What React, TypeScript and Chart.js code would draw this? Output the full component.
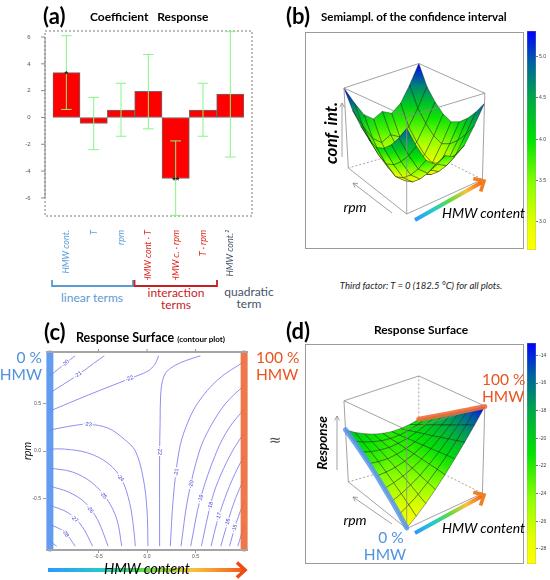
import { useEffect, useRef } from "react";
import { Chart, registerables } from "chart.js";

Chart.register(...registerables);

// ---------- data ----------
// (a) model coefficients with confidence intervals
const terms = ["HMW cont.", "T", "rpm", "HMW cont · T", "HMW c. · rpm", "T · rpm", "HMW cont.²"];
const termGroups = ["linear", "linear", "linear", "interaction", "interaction", "interaction", "quadratic"];
const coefficients = [3.35, -0.45, 0.55, 1.95, -4.55, 0.55, 1.75];
const ciLow = [0.6, -2.4, -1.4, -0.85, -7.3, -1.4, -2.95];
const ciHigh = [6.1, 1.5, 2.55, 4.7, -1.75, 2.55, 6.4];
const significance = ["*", "", "", "", "**", "", ""];
const coefTicks = [-6, -4, -2, 0, 2, 4, 6];

// (b) semi-amplitude of the confidence interval, rows = HMW level -1..1, columns = rpm level -1..1
const confInt = [
	[5.0, 4.62, 4.31, 4.08, 3.96, 4.08, 4.34, 4.7, 5.31],
	[4.42, 4.04, 3.73, 3.5, 3.38, 3.5, 3.76, 4.11, 4.73],
	[3.93, 3.55, 3.24, 3.01, 2.89, 3.01, 3.27, 3.62, 4.24],
	[3.7, 3.32, 3.01, 2.78, 2.66, 2.78, 3.04, 3.39, 4.01],
	[3.85, 3.47, 3.17, 2.94, 2.81, 2.94, 3.2, 3.55, 4.16],
	[3.7, 3.32, 3.01, 2.78, 2.66, 2.78, 3.04, 3.39, 4.01],
	[3.93, 3.55, 3.24, 3.01, 2.89, 3.01, 3.27, 3.62, 4.24],
	[4.42, 4.04, 3.73, 3.5, 3.38, 3.5, 3.76, 4.11, 4.73],
	[5.0, 4.62, 4.31, 4.08, 3.96, 4.08, 4.34, 4.7, 5.31],
];
const confRange = [2.66, 5.31];
const confTicks = [3.0, 3.5, 4.0, 4.5, 5.0];

// (d) response surface, rows = HMW level -1..1, columns = rpm level -1..1
const response = [
	[-29.0, -27.7, -26.45, -25.2, -23.9, -22.6, -21.35, -20.1, -18.8],
	[-27.8, -26.8, -25.8, -24.8, -23.8, -22.8, -21.85, -20.9, -19.9],
	[-26.4, -25.7, -24.95, -24.25, -23.55, -22.85, -22.1, -21.4, -20.7],
	[-24.7, -24.3, -23.9, -23.45, -23.05, -22.6, -22.2, -21.8, -21.35],
	[-22.85, -22.7, -22.55, -22.45, -22.3, -22.15, -22.0, -21.9, -21.75],
	[-20.75, -20.9, -21.05, -21.2, -21.35, -21.5, -21.65, -21.8, -21.95],
	[-18.45, -18.9, -19.3, -19.75, -20.2, -20.6, -21.05, -21.5, -21.9],
	[-15.95, -16.65, -17.35, -18.1, -18.8, -19.5, -20.25, -20.95, -21.65],
	[-13.2, -14.2, -15.2, -16.2, -17.2, -18.2, -19.2, -20.2, -21.2],
];
const responseRange = [-29.1, -13.1];
const responseTicks = [-28, -26, -24, -22, -20, -18, -16, -14];

// (c) contour lines of the response, [HMW, rpm] points
const contourLevels = [-20, -21, -22, -22, -23, -24, -25, -26, -27, -28, -29, -21, -20, -19, -18, -17, -16, -15, -14];
const contourLines = [
	[[-1, 0.79], [-0.84, 0.92], [-0.74, 1.0]],
	[[-1, 0.61], [-0.71, 0.8], [-0.55, 0.92], [-0.44, 1.0]],
	[[-1, 0.42], [-0.6, 0.59], [-0.18, 0.76], [0.01, 0.84], [0.08, 0.91], [0.12, 1.0]],
	[[0.55, 1.0], [0.4, 0.95], [0.29, 0.9], [0.2, 0.83], [0.16, 0.74], [0.14, 0.58], [0.135, 0.3], [0.13, 0], [0.13, -1]],
	[[-1, 0.22], [-0.8, 0.26], [-0.61, 0.28], [-0.4, 0.24], [-0.23, 0.12], [-0.12, 0.0], [-0.04, -0.28], [0.0, -0.62], [0.01, -1]],
	[[-1, 0.02], [-0.85, 0.02], [-0.61, -0.02], [-0.4, -0.13], [-0.26, -0.3], [-0.18, -0.54], [-0.14, -0.79], [-0.12, -1]],
	[[-1, -0.18], [-0.77, -0.22], [-0.57, -0.33], [-0.41, -0.51], [-0.31, -0.72], [-0.26, -1]],
	[[-1, -0.37], [-0.81, -0.43], [-0.64, -0.54], [-0.51, -0.72], [-0.4, -1]],
	[[-1, -0.57], [-0.81, -0.65], [-0.67, -0.79], [-0.56, -1]],
	[[-1, -0.77], [-0.85, -0.85], [-0.74, -1]],
	[[-1, -0.95], [-0.93, -1]],
	[[0.24, -1], [0.27, -0.5], [0.33, 0], [0.4, 0.25], [0.52, 0.5], [0.73, 0.75], [1, 0.94]],
	[[0.35, -1], [0.42, -0.5], [0.54, 0], [0.65, 0.25], [0.81, 0.5], [1, 0.69]],
	[[0.45, -1], [0.55, -0.5], [0.72, 0], [0.85, 0.25], [1, 0.44]],
	[[0.56, -1], [0.67, -0.5], [0.76, -0.25], [0.88, 0], [1, 0.19]],
	[[0.66, -1], [0.72, -0.75], [0.8, -0.5], [0.9, -0.25], [1, -0.05]],
	[[0.76, -1], [0.83, -0.75], [0.91, -0.5], [1, -0.29]],
	[[0.85, -1], [0.92, -0.75], [1, -0.53]],
	[[0.935, -1], [0.965, -0.9], [1, -0.77]],
];
const contourLabelAt = [1, 1, 2, 7, 2, 3.9, 2.75, 2.4, 1.45, 1.1, -1, 1.55, 1.3, 1.0, 0.85, 1.25, 1.0, 0.75, -1];
const codedTicks = [-0.5, 0, 0.5];

// ---------- styling helpers ----------
const FONT = "Lato, 'Open Sans', sans-serif";
const RFONT = "'Liberation Sans', Arial, sans-serif";
const groupColor: Record<string, string> = {
	linear: "#5b9bd5",
	interaction: "#e0241b",
	quadratic: "#44546a",
};

const RAMP: [number, number[]][] = [
	[0, [255, 255, 0]],
	[0.12, [228, 255, 0]],
	[0.3, [140, 255, 0]],
	[0.5, [0, 228, 0]],
	[0.7, [0, 165, 75]],
	[0.86, [0, 95, 165]],
	[1, [0, 0, 255]],
];

function ramp(t: number) {
	const c = Math.max(0, Math.min(1, t));
	for (let k = 1; k < RAMP.length; k++) {
		const [t0, c0] = RAMP[k - 1];
		const [t1, c1] = RAMP[k];
		if (c <= t1) {
			const f = (c - t0) / (t1 - t0);
			return `rgb(${c0.map((v, i) => Math.round(v + f * (c1[i] - v))).join(",")})`;
		}
	}
	return "rgb(0,0,255)";
}

// persp view of the unit box, in % of the plot frame
const VIEW: any = {
	floor: { f: [46.4, 15.8], r: [81.3, 31.9], l: [19.5, 37.2], b: [52.0, 46.6] },
	roof: { f: [46.4, 61.0], r: [82.4, 72.0], l: [17.5, 74.4], b: [52.0, 85.8] },
};
const BOX_EDGES = [
	["roof", "f", "roof", "r"],
	["roof", "r", "roof", "b"],
	["roof", "b", "roof", "l"],
	["roof", "l", "roof", "f"],
	["floor", "f", "roof", "f"],
	["floor", "l", "roof", "l"],
	["floor", "r", "roof", "r"],
	["floor", "f", "floor", "l"],
	["floor", "f", "floor", "r"],
];
const HIDDEN_EDGES = [
	["floor", "b", "floor", "l"],
	["floor", "b", "floor", "r"],
	["floor", "b", "roof", "b"],
];

function project(u: number, v: number, w: number) {
	const bil = (c: any, k: number) =>
		(1 - u) * (1 - v) * c.f[k] + u * (1 - v) * c.r[k] + (1 - u) * v * c.l[k] + u * v * c.b[k];
	const fx = bil(VIEW.floor, 0);
	const fy = bil(VIEW.floor, 1);
	const tx = bil(VIEW.roof, 0);
	const ty = bil(VIEW.roof, 1);
	return [fx + w * (tx - fx), fy + w * (ty - fy)];
}

// ---------- (a) coefficients ----------
function CoefficientChart() {
	const ref = useRef<HTMLCanvasElement>(null);
	useEffect(() => {
		if (!ref.current) return;
		const decor = {
			id: "coefDecor",
			beforeDatasetsDraw(chart: any) {
				const { ctx, chartArea: a, scales } = chart;
				const y = scales.y;
				const left = a.left - 7.7;
				const right = a.right + 8;
				ctx.save();
				ctx.strokeStyle = "#7a7a7a";
				ctx.lineWidth = 1;
				ctx.setLineDash([2, 2]);
				ctx.strokeRect(left, a.top, right - left, a.bottom - a.top);
				ctx.setLineDash([]);
				ctx.strokeStyle = "#8a8a8a";
				ctx.beginPath();
				ctx.moveTo(left, y.getPixelForValue(coefTicks[0]));
				ctx.lineTo(left, y.getPixelForValue(coefTicks[coefTicks.length - 1]));
				coefTicks.forEach((v) => {
					const py = y.getPixelForValue(v);
					ctx.moveTo(left - 4, py);
					ctx.lineTo(left, py);
				});
				ctx.stroke();
				ctx.restore();
			},
			afterDatasetsDraw(chart: any) {
				const { ctx, scales } = chart;
				const { x, y } = scales;
				ctx.save();
				ctx.strokeStyle = "#86f586";
				ctx.lineWidth = 1;
				terms.forEach((_, i) => {
					const px = x.getPixelForValue(i);
					const lo = y.getPixelForValue(ciLow[i]);
					const hi = y.getPixelForValue(ciHigh[i]);
					ctx.beginPath();
					ctx.moveTo(px, lo);
					ctx.lineTo(px, hi);
					ctx.moveTo(px - 5.3, lo);
					ctx.lineTo(px + 5.3, lo);
					ctx.moveTo(px - 5.3, hi);
					ctx.lineTo(px + 5.3, hi);
					ctx.stroke();
				});
				ctx.fillStyle = "#1a1a1a";
				ctx.font = `bold 9px ${RFONT}`;
				ctx.textAlign = "center";
				ctx.textBaseline = "middle";
				significance.forEach((s, i) => {
					if (s) ctx.fillText(s, x.getPixelForValue(i), y.getPixelForValue(coefficients[i]) + 2);
				});
				ctx.restore();
			},
		};
		const chart = new Chart(ref.current, {
			type: "bar",
			data: {
				labels: terms,
				datasets: [
					{
						data: coefficients,
						backgroundColor: "#ff0000",
						borderColor: "#6b6b6b",
						borderWidth: 1,
						borderSkipped: false,
						barPercentage: 1,
						categoryPercentage: 1,
					},
				],
			},
			options: {
				animation: false,
				responsive: true,
				maintainAspectRatio: false,
				layout: { padding: { top: 31, right: 26, left: 0, bottom: 0 } },
				plugins: { legend: { display: false }, tooltip: { enabled: false } },
				scales: {
					x: {
						grid: { display: false },
						border: { display: false },
						ticks: {
							minRotation: 90,
							maxRotation: 90,
							autoSkip: false,
							padding: 6,
							color: (c: any) => groupColor[termGroups[c.index]],
							font: { family: FONT, style: "italic", size: 9 },
						},
						afterFit: (s: any) => {
							s.height = 64;
						},
					},
					y: {
						min: -7.35,
						max: 6.45,
						afterBuildTicks: (s: any) => {
							s.ticks = coefTicks.map((v) => ({ value: v }));
						},
						grid: { display: false },
						border: { display: false },
						ticks: { padding: 14, color: "#555", font: { size: 6, family: RFONT } },
						afterFit: (s: any) => {
							s.width = 52.7;
						},
					},
				},
			},
			plugins: [decor],
		} as any);
		return () => chart.destroy();
	}, []);
	return <canvas ref={ref} />;
}

// ---------- (c) contour plot ----------
function ContourChart() {
	const ref = useRef<HTMLCanvasElement>(null);
	useEffect(() => {
		if (!ref.current) return;
		const decor = {
			id: "contourDecor",
			afterDatasetsDraw(chart: any) {
				const { ctx, chartArea: a, scales } = chart;
				const { x, y } = scales;
				ctx.save();
				ctx.strokeStyle = "#a4a4a4";
				ctx.lineWidth = 2;
				ctx.beginPath();
				ctx.moveTo(a.left, a.top);
				ctx.lineTo(a.right, a.top);
				ctx.moveTo(a.left, a.bottom);
				ctx.lineTo(a.right, a.bottom);
				ctx.stroke();
				ctx.lineWidth = 1;
				ctx.strokeStyle = "#999";
				ctx.beginPath();
				codedTicks.forEach((v) => {
					const px = x.getPixelForValue(v);
					ctx.moveTo(px, a.top);
					ctx.lineTo(px, a.top - 3);
				});
				ctx.stroke();
				// contour labels
				ctx.font = `5.5px ${RFONT}`;
				ctx.textAlign = "center";
				ctx.textBaseline = "middle";
				contourLines.forEach((line, k) => {
					const at = contourLabelAt[k];
					if (at < 0) return;
					const i = Math.min(Math.floor(at), line.length - 2);
					const f = at - i;
					const p0 = line[i];
					const p1 = line[i + 1];
					const lx = p0[0] + f * (p1[0] - p0[0]);
					const ly = p0[1] + f * (p1[1] - p0[1]);
					const px = x.getPixelForValue(lx);
					const py = y.getPixelForValue(ly);
					let ang = Math.atan2(
						y.getPixelForValue(p1[1]) - y.getPixelForValue(p0[1]),
						x.getPixelForValue(p1[0]) - x.getPixelForValue(p0[0]),
					);
					if (ang > Math.PI / 2) ang -= Math.PI;
					if (ang < -Math.PI / 2) ang += Math.PI;
					const txt = String(contourLevels[k]);
					const w = ctx.measureText(txt).width + 2;
					ctx.save();
					ctx.translate(px, py);
					ctx.rotate(ang);
					ctx.fillStyle = "#ffffff";
					ctx.fillRect(-w / 2, -3, w, 6);
					ctx.fillStyle = "#3a3ad8";
					ctx.fillText(txt, 0, 0);
					ctx.restore();
				});
				ctx.restore();
			},
		};
		const edgeBar = (hmw: number, color: string) => ({
			data: [
				{ x: hmw, y: -1.02 },
				{ x: hmw, y: 1.02 },
			],
			showLine: true,
			borderColor: color,
			borderWidth: 7,
			borderCapStyle: "round",
			pointRadius: 0,
			clip: false,
		});
		const lines = contourLines.map((line) => ({
			data: line.map(([px, py]) => ({ x: px, y: py })),
			showLine: true,
			borderColor: "#8181f2",
			borderWidth: 0.9,
			pointRadius: 0,
			tension: 0.35,
		}));
		const tickFont = { size: 5, family: RFONT };
		const chart = new Chart(ref.current, {
			type: "scatter",
			data: {
				datasets: [edgeBar(-1, "rgba(86,148,238,0.92)"), edgeBar(1, "rgba(236,108,60,0.92)"), ...lines],
			},
			options: {
				animation: false,
				responsive: true,
				maintainAspectRatio: false,
				layout: { padding: { top: 12, right: 14, left: 0, bottom: 0 } },
				plugins: { legend: { display: false }, tooltip: { enabled: false } },
				scales: {
					x: {
						type: "linear",
						min: -1.04,
						max: 1.04,
						afterBuildTicks: (s: any) => {
							s.ticks = codedTicks.map((v) => ({ value: v }));
						},
						grid: { display: true, drawOnChartArea: false, tickLength: 3, color: "#999" },
						border: { display: false },
						ticks: { padding: 1, color: "#555", font: tickFont, callback: (v: any) => Number(v).toFixed(1) },
						afterFit: (s: any) => {
							s.height = 10;
						},
					},
					y: {
						type: "linear",
						min: -1.04,
						max: 1.04,
						afterBuildTicks: (s: any) => {
							s.ticks = codedTicks.map((v) => ({ value: v }));
						},
						grid: { display: true, drawOnChartArea: false, tickLength: 3, color: "#999" },
						border: { display: false },
						ticks: { padding: 2, color: "#555", font: tickFont, callback: (v: any) => Number(v).toFixed(1) },
						title: {
							display: true,
							text: "rpm",
							color: "#111",
							font: { family: FONT, style: "italic", size: 11 },
							padding: { top: 21, bottom: 0 },
						},
						afterFit: (s: any) => {
							s.width = 46;
						},
					},
				},
			},
			plugins: [decor],
		} as any);
		return () => chart.destroy();
	}, []);
	return <canvas ref={ref} />;
}

// ---------- (b), (d) persp surfaces ----------
function SurfaceChart({ values, range, highlight }: { values: number[][]; range: number[]; highlight?: boolean }) {
	const ref = useRef<HTMLCanvasElement>(null);
	useEffect(() => {
		if (!ref.current) return;
		const norm = (z: number) => (z - range[0]) / (range[1] - range[0]);
		const edgeData = (e: string[]) => [
			{ x: VIEW[e[0]][e[1]][0], y: VIEW[e[0]][e[1]][1] },
			{ x: VIEW[e[2]][e[3]][0], y: VIEW[e[2]][e[3]][1] },
		];
		const solid = BOX_EDGES.map((e) => ({
			data: edgeData(e),
			showLine: true,
			borderColor: "#8c8c8c",
			borderWidth: 0.8,
			pointRadius: 0,
		}));
		const hidden = HIDDEN_EDGES.map((e) => ({
			data: edgeData(e),
			showLine: true,
			borderColor: "#8c8c8c",
			borderWidth: 0.8,
			borderDash: [2, 2],
			pointRadius: 0,
		}));
		const n = values.length;
		const m = values[0].length;
		const surface = {
			id: "surface",
			afterDatasetDraw(chart: any, args: any) {
				if (args.index !== solid.length) return;
				const { ctx, scales } = chart;
				const px = (p: number[]) => [scales.x.getPixelForValue(p[0]), scales.y.getPixelForValue(p[1])];
				const facets: any[] = [];
				for (let i = 0; i < n - 1; i++) {
					for (let j = 0; j < m - 1; j++) {
						const cells = [
							[i, j],
							[i + 1, j],
							[i + 1, j + 1],
							[i, j + 1],
						];
						const zs = cells.map(([a, b]) => values[a][b]);
						const pts = cells.map(([a, b]) => px(project(a / (n - 1), b / (m - 1), norm(values[a][b]))));
						facets.push({ pts, zs, depth: i + j });
					}
				}
				facets.sort((a, b) => b.depth - a.depth);
				ctx.save();
				ctx.lineWidth = 0.6;
				ctx.strokeStyle = "rgba(0,0,0,0.6)";
				facets.forEach((f) => {
					let lo = 0;
					let hi = 0;
					f.zs.forEach((z: number, k: number) => {
						if (z < f.zs[lo]) lo = k;
						if (z > f.zs[hi]) hi = k;
					});
					const nlo = norm(f.zs[lo]);
					const nhi = norm(f.zs[hi]);
					const [ax, ay] = f.pts[lo];
					const [bx, by] = f.pts[hi];
					let fill: any = ramp((nlo + nhi) / 2);
					if (Math.hypot(bx - ax, by - ay) > 0.5) {
						const g = ctx.createLinearGradient(ax, ay, bx, by);
						g.addColorStop(0, ramp(nlo));
						g.addColorStop(0.5, ramp((nlo + nhi) / 2));
						g.addColorStop(1, ramp(nhi));
						fill = g;
					}
					ctx.beginPath();
					f.pts.forEach((p: number[], k: number) => (k ? ctx.lineTo(p[0], p[1]) : ctx.moveTo(p[0], p[1])));
					ctx.closePath();
					ctx.fillStyle = fill;
					ctx.fill();
					ctx.stroke();
				});
				ctx.restore();
			},
			afterDatasetsDraw(chart: any) {
				if (!highlight) return;
				const { ctx, scales } = chart;
				const px = (p: number[]) => [scales.x.getPixelForValue(p[0]), scales.y.getPixelForValue(p[1])];
				const rows = [
					[0, "rgba(88,150,240,0.85)"],
					[n - 1, "rgba(240,108,58,0.9)"],
				];
				ctx.save();
				ctx.lineWidth = 5;
				ctx.lineCap = "round";
				rows.forEach(([i, color]: any) => {
					ctx.strokeStyle = color;
					ctx.beginPath();
					values[i].forEach((z, j) => {
						const p = px(project(i / (n - 1), j / (m - 1), norm(z)));
						if (j) ctx.lineTo(p[0], p[1]);
						else ctx.moveTo(p[0], p[1]);
					});
					ctx.stroke();
				});
				ctx.restore();
			},
		};
		const chart = new Chart(ref.current, {
			type: "scatter",
			data: { datasets: [...solid, ...hidden] },
			options: {
				animation: false,
				responsive: true,
				maintainAspectRatio: false,
				layout: { padding: 0 },
				plugins: { legend: { display: false }, tooltip: { enabled: false } },
				scales: {
					x: { type: "linear", min: 0, max: 100, display: false },
					y: { type: "linear", min: 0, max: 100, display: false },
				},
			},
			plugins: [surface],
		} as any);
		return () => chart.destroy();
	}, [values, range, highlight]);
	return <canvas ref={ref} />;
}

function ColorBar({ range, ticks }: { range: number[]; ticks: number[] }) {
	const ref = useRef<HTMLCanvasElement>(null);
	useEffect(() => {
		if (!ref.current) return;
		const chart = new Chart(ref.current, {
			type: "bar",
			data: {
				labels: [""],
				datasets: [
					{
						data: [[range[0], range[1]]],
						backgroundColor: (c: any) => {
							const a = c.chart.chartArea;
							if (!a) return "#0f0";
							const g = c.chart.ctx.createLinearGradient(0, a.bottom, 0, a.top);
							RAMP.forEach(([t, col]) => g.addColorStop(t, `rgb(${col.join(",")})`));
							return g;
						},
						borderColor: "#9a9a9a",
						borderWidth: 0.6,
						borderSkipped: false,
						barPercentage: 1,
						categoryPercentage: 1,
					},
				],
			},
			options: {
				animation: false,
				responsive: true,
				maintainAspectRatio: false,
				layout: { padding: { top: 10, bottom: 10, left: 3, right: 0 } },
				plugins: { legend: { display: false }, tooltip: { enabled: false } },
				scales: {
					x: { display: false },
					y: {
						position: "right",
						min: range[0],
						max: range[1],
						afterBuildTicks: (s: any) => {
							s.ticks = ticks.map((v) => ({ value: v }));
						},
						grid: { display: true, drawOnChartArea: false, tickLength: 2, color: "#777" },
						border: { display: false },
						ticks: {
							padding: 1,
							color: "#444",
							font: { size: 5, family: RFONT },
							callback: (v: any) => (Number.isInteger(v) && Math.abs(v) > 9 ? String(v) : Number(v).toFixed(1)),
						},
						afterFit: (s: any) => {
							s.width = 14;
						},
					},
				},
			},
		} as any);
		return () => chart.destroy();
	}, [range, ticks]);
	return <canvas ref={ref} />;
}

// ---------- layout helpers ----------
function Txt(props: {
	x: number;
	y: number;
	children: any;
	size?: number;
	align?: "left" | "center" | "right";
	color?: string;
	bold?: boolean;
	italic?: boolean;
	rotate?: boolean;
	family?: string;
}) {
	const { x, y, children, size = 12, align = "left", color = "#000", bold, italic, rotate, family = FONT } = props;
	const tx = align === "left" ? "0" : align === "center" ? "-50%" : "-100%";
	return (
		<div
			style={{
				position: "absolute",
				left: x,
				top: y,
				transform: `translate(${tx}, -50%)${rotate ? " rotate(-90deg)" : ""}`,
				fontFamily: family,
				fontSize: size,
				lineHeight: 1,
				fontWeight: bold ? 700 : 400,
				fontStyle: italic ? "italic" : "normal",
				color,
				whiteSpace: "pre",
			}}
		>
			{children}
		</div>
	);
}

function Box({ x, y, w, h, children, border }: any) {
	return (
		<div
			style={{
				position: "absolute",
				left: x,
				top: y,
				width: w,
				height: h,
				border: border ? "1px solid #9a9a9a" : undefined,
				boxSizing: "border-box",
			}}
		>
			{children}
		</div>
	);
}

function head(x1: number, y1: number, x2: number, y2: number, len: number, spread: number) {
	const ang = Math.atan2(y2 - y1, x2 - x1);
	const a1 = ang + Math.PI - spread;
	const a2 = ang + Math.PI + spread;
	return `${x2 + len * Math.cos(a1)},${y2 + len * Math.sin(a1)} ${x2},${y2} ${x2 + len * Math.cos(a2)},${y2 + len * Math.sin(a2)}`;
}

function GradientArrow({ id, x1, y1, x2, y2, headColor }: any) {
	return (
		<g>
			<defs>
				<linearGradient id={id} gradientUnits="userSpaceOnUse" x1={x1} y1={y1} x2={x2} y2={y2}>
					<stop offset="0" stopColor="#2f98ff" />
					<stop offset="0.28" stopColor="#22ccc8" />
					<stop offset="0.5" stopColor="#5fdc3c" />
					<stop offset="0.74" stopColor="#f8c23a" />
					<stop offset="1" stopColor="#f2561a" />
				</linearGradient>
			</defs>
			<line x1={x1} y1={y1} x2={x2} y2={y2} stroke={`url(#${id})`} strokeWidth={4} />
			<polyline points={head(x1, y1, x2, y2, 11, 0.75)} fill="none" stroke={headColor} strokeWidth={3.6} />
		</g>
	);
}

function ThinArrow({ x1, y1, x2, y2 }: any) {
	return (
		<g stroke="#8a8a8a" strokeWidth={0.8} fill="none">
			<line x1={x1} y1={y1} x2={x2} y2={y2} />
			<polyline points={head(x1, y1, x2, y2, 5, 0.5)} />
		</g>
	);
}

const BLUE = "#4f92e0";
const ORANGE = "#e9541f";

export default function App() {
	return (
		<div
			style={{
				position: "absolute",
				left: 0,
				top: 0,
				width: 550,
				height: 580,
				background: "#fff",
				overflow: "hidden",
				fontFamily: FONT,
			}}
		>
			{/* (a) */}
			<Box x={0} y={0} w={270} h={280}>
				<CoefficientChart />
			</Box>
			<Txt x={43} y={16} size={22} bold>
				(a)
			</Txt>
			<Txt x={90} y={17} size={12} bold>
				{"Coefficient   Response"}
			</Txt>
			<Txt x={92} y={298} size={12} color="#5b9bd5" align="center">
				linear terms
			</Txt>
			<Txt x={176} y={293} size={12} color="#c81e1e" align="center">
				interaction
			</Txt>
			<Txt x={176} y={305} size={12} color="#c81e1e" align="center">
				terms
			</Txt>
			<Txt x={249} y={292} size={12} color="#44546a" align="center">
				quadratic
			</Txt>
			<Txt x={249} y={304} size={12} color="#44546a" align="center">
				term
			</Txt>

			{/* (b) */}
			<Box x={305} y={32} w={219} h={217} border>
				<SurfaceChart values={confInt} range={confRange} />
			</Box>
			<Box x={524} y={21} w={26} h={239}>
				<ColorBar range={confRange} ticks={confTicks} />
			</Box>
			<Txt x={286} y={16} size={22} bold>
				(b)
			</Txt>
			<Txt x={321} y={17} size={11.5} bold>
				Semiampl. of the confidence interval
			</Txt>
			<Txt x={421} y={286} size={9.5} italic color="#222" align="center">
				Third factor: T = 0 (182.5 °C) for all plots.
			</Txt>

			{/* (c) */}
			<Box x={0} y={340} w={262} h={220}>
				<ContourChart />
			</Box>
			<Txt x={44} y={332} size={22} bold>
				(c)
			</Txt>
			<Txt x={76} y={338} size={12.5} bold>
				Response Surface <span style={{ fontSize: 8 }}>(contour plot)</span>
			</Txt>
			<Txt x={42} y={358} size={15.5} color={BLUE} align="right">
				0 %
			</Txt>
			<Txt x={42} y={375} size={15.5} color={BLUE} align="right">
				HMW
			</Txt>
			<Txt x={256} y={358} size={15.5} color={ORANGE}>
				100 %
			</Txt>
			<Txt x={256} y={375} size={15.5} color={ORANGE}>
				HMW
			</Txt>
			<Txt x={275} y={440} size={15} color="#555" align="center" family="'DejaVu Sans', sans-serif">
				≈
			</Txt>

			{/* (d) */}
			<Box x={305} y={344} w={219} h={220} border>
				<SurfaceChart values={response} range={responseRange} highlight />
			</Box>
			<Box x={524} y={333} w={26} h={241}>
				<ColorBar range={responseRange} ticks={responseTicks} />
			</Box>
			<Txt x={286} y={331} size={22} bold>
				(d)
			</Txt>
			<Txt x={421} y={330} size={12} bold align="center">
				Response Surface
			</Txt>
			<Txt x={482} y={380} size={15.5} color={ORANGE}>
				100 %
			</Txt>
			<Txt x={482} y={397} size={15.5} color={ORANGE}>
				HMW
			</Txt>
			<Txt x={391} y={538} size={15.5} color={BLUE} align="center">
				0 %
			</Txt>
			<Txt x={385} y={555} size={15.5} color={BLUE} align="center">
				HMW
			</Txt>

			<svg
				width={550}
				height={580}
				style={{ position: "absolute", left: 0, top: 0, pointerEvents: "none" }}
			>
				<path d="M52,280 L52,286 L133,286 L133,280" fill="none" stroke="#5b9bd5" strokeWidth={1.8} />
				<path d="M134.5,280 L134.5,286 L217,286 L217,280" fill="none" stroke="#c81e1e" strokeWidth={1.8} />
				<ThinArrow x1={342} y1={157} x2={342} y2={103} />
				<ThinArrow x1={392} y1={213} x2={353} y2={183} />
				<ThinArrow x1={337} y1={470} x2={337} y2={416} />
				<ThinArrow x1={392} y1={524} x2={353} y2={497} />
				<GradientArrow id="gb" x1={415} y1={220} x2={484} y2={181} headColor="#f07f22" />
				<GradientArrow id="gd" x1={415} y1={533} x2={484} y2={495} headColor="#f07f22" />
				<GradientArrow id="gc" x1={48} y1={570} x2={245} y2={570} headColor="#ee4a12" />
			</svg>

			<Txt x={330} y={133} size={17} bold italic align="center" rotate>
				conf. int.
			</Txt>
			<Txt x={323} y={443} size={13.5} bold italic align="center" rotate>
				Response
			</Txt>
			<Txt x={355} y={207} size={14} italic align="center">
				rpm
			</Txt>
			<Txt x={355} y={520} size={14} italic align="center">
				rpm
			</Txt>
			<Txt x={442} y={213} size={14} italic>
				HMW content
			</Txt>
			<Txt x={442} y={528} size={14} italic>
				HMW content
			</Txt>
			<Txt x={147} y={569} size={14.5} italic align="center">
				HMW content
			</Txt>
		</div>
	);
}
